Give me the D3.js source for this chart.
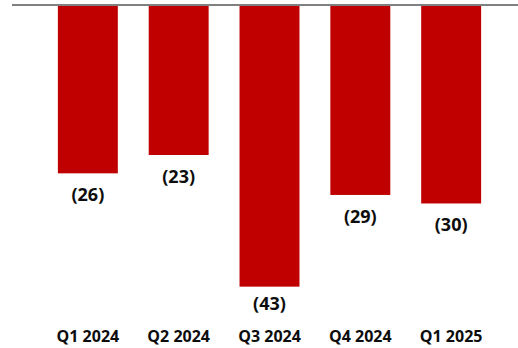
<!DOCTYPE html>
<html>
<head>
<meta charset="utf-8">
<script src="https://cdn.jsdelivr.net/npm/d3@7"></script>
<style>
html,body{margin:0;padding:0;background:#fff;}
svg{display:block;}
</style>
</head>
<body>
<svg id="chart" width="518" height="348"></svg>
<script>
const categories = ["Q1 2024", "Q2 2024", "Q3 2024", "Q4 2024", "Q1 2025"];
const values = [-25.7, -22.9, -43.0, -29.0, -30.3];
const valueLabels = ["(26)", "(23)", "(43)", "(29)", "(30)"];

const svg = d3.select("#chart");
const W = 518, H = 348;

const x = d3.scaleBand()
  .domain(categories)
  .range([27, 512])
  .paddingInner(0.34)
  .paddingOuter(0.34);

const y = d3.scaleLinear()
  .domain([0, -45])
  .range([5, 5 + 45 * 6.55]);

const data = categories.map((c, i) => ({c, v: values[i], label: valueLabels[i]}));

svg.selectAll("rect.bar")
  .data(data)
  .join("rect")
  .attr("class", "bar")
  .attr("x", d => x(d.c))
  .attr("width", x.bandwidth())
  .attr("y", y(0))
  .attr("height", d => y(d.v) - y(0))
  .attr("fill", "#C00000");

// baseline
svg.append("line")
  .attr("x1", 12).attr("x2", W)
  .attr("y1", y(0)).attr("y2", y(0))
  .attr("stroke", "#808080")
  .attr("stroke-width", 2);

// value labels
svg.selectAll("text.val")
  .data(data)
  .join("text")
  .attr("class", "val")
  .attr("x", d => x(d.c) + x.bandwidth() / 2)
  .attr("y", d => Math.min(y(d.v) + 28, 309.5))
  .attr("text-anchor", "middle")
  .attr("font-family", "'Open Sans', sans-serif")
  .attr("font-weight", "bold")
  .attr("font-size", "18px")
  .attr("fill", "#0d0d0d")
  .text(d => d.label);

// category axis labels
const xAxis = d3.axisBottom(x).tickSize(0).tickPadding(0);
const g = svg.append("g").attr("transform", "translate(0,330)").call(xAxis);
g.select(".domain").remove();
g.selectAll("text")
  .attr("dy", null)
  .attr("y", 12)
  .attr("font-family", "'Open Sans', sans-serif")
  .attr("font-weight", "bold")
  .attr("font-size", "16px")
  .attr("fill", "#0d0d0d");
</script>
</body>
</html>
